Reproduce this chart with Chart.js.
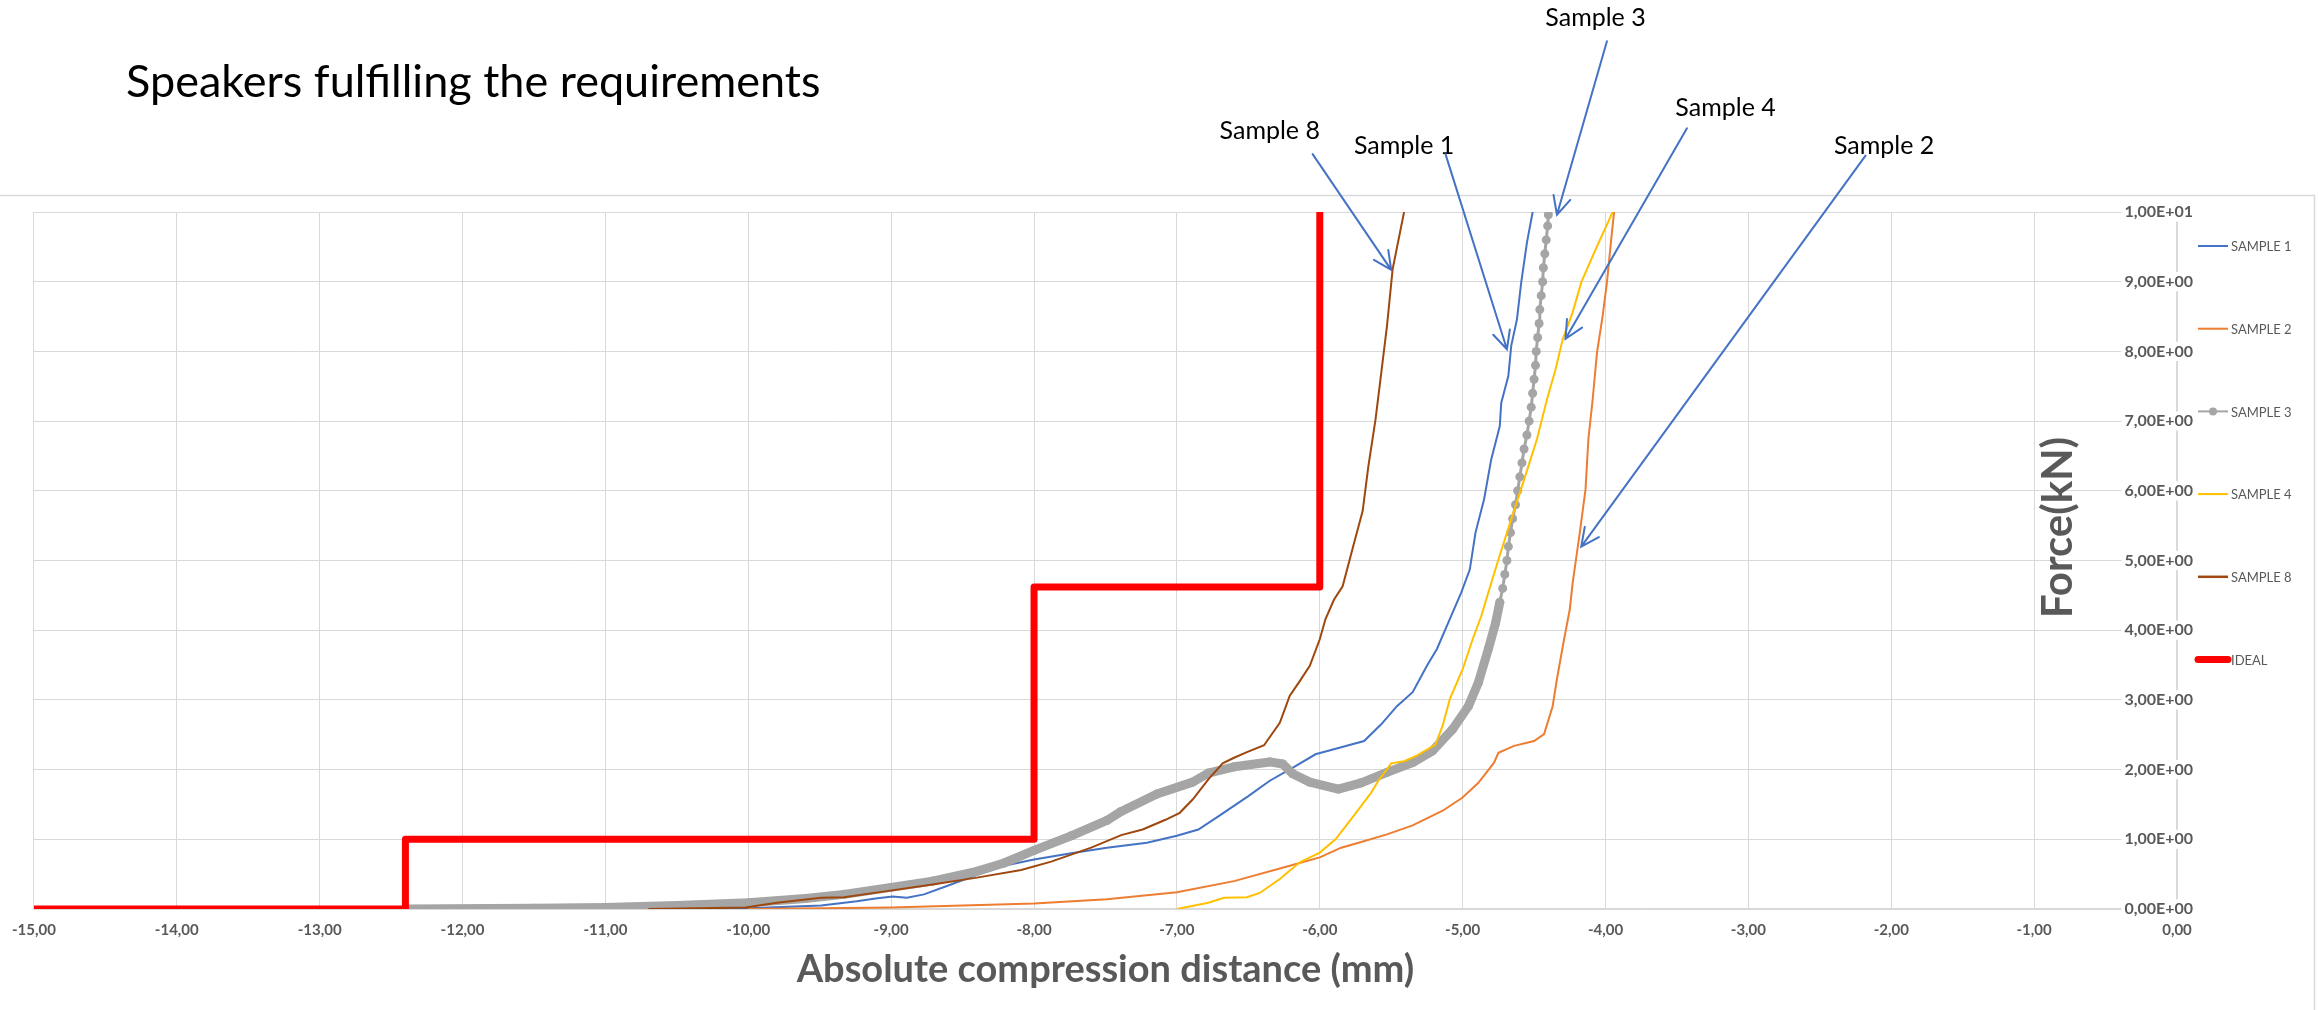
<!DOCTYPE html>
<html>
<head>
<meta charset="utf-8">
<script src="https://cdn.jsdelivr.net/npm/chart.js@4.4.1/dist/chart.umd.min.js"></script>
<style>
  html, body { margin: 0; padding: 0; background: #fff; }
  #chart { display: block; }
</style>
</head>
<body>
<canvas id="chart" width="2318" height="1010"></canvas>
<script>
// ---- data (x = compression distance in mm, y = force in kN) ----
const sample1X = [-10.7, -10.0, -9.49, -9.24, -9.11, -8.99, -8.89, -8.77, -8.61, -8.40, -8.21, -8.0, -7.74, -7.49, -7.21, -7.0, -6.85, -6.71, -6.50, -6.35, -6.17, -6.03, -5.85, -5.69, -5.57, -5.46, -5.35, -5.25, -5.18, -5.09, -5.01, -4.95, -4.91, -4.85, -4.80, -4.74, -4.73, -4.68, -4.66, -4.62, -4.59, -4.55, -4.51];
const sample1Y = [0.0, 0.01, 0.05, 0.11, 0.15, 0.18, 0.16, 0.21, 0.33, 0.49, 0.62, 0.71, 0.80, 0.88, 0.95, 1.05, 1.14, 1.33, 1.62, 1.84, 2.05, 2.22, 2.32, 2.41, 2.65, 2.91, 3.11, 3.49, 3.73, 4.16, 4.54, 4.87, 5.40, 5.88, 6.45, 6.93, 7.26, 7.65, 8.08, 8.46, 8.99, 9.56, 10.0];

const sample2X = [-10.0, -9.0, -8.5, -8.0, -7.49, -7.0, -6.60, -6.21, -6.0, -5.85, -5.71, -5.53, -5.35, -5.14, -5.0, -4.89, -4.78, -4.75, -4.64, -4.50, -4.43, -4.37, -4.34, -4.29, -4.25, -4.23, -4.18, -4.14, -4.12, -4.09, -4.06, -4.02, -3.99, -3.96, -3.94];
const sample2Y = [0.0, 0.02, 0.05, 0.08, 0.14, 0.24, 0.40, 0.62, 0.74, 0.88, 0.96, 1.07, 1.20, 1.41, 1.60, 1.81, 2.10, 2.24, 2.34, 2.41, 2.51, 2.91, 3.30, 3.87, 4.30, 4.68, 5.40, 6.02, 6.74, 7.31, 7.98, 8.51, 8.99, 9.61, 10.0];

const sample3X = [-12.40, -11.5, -11.0, -10.5, -10.0, -9.6, -9.33, -9.0, -8.71, -8.40, -8.21, -8.0, -7.74, -7.49, -7.39, -7.14, -6.89, -6.78, -6.60, -6.35, -6.26, -6.19, -6.07, -5.87, -5.71, -5.53, -5.35, -5.21, -5.07, -4.96, -4.89, -4.82, -4.77, -4.74, -4.72, -4.705, -4.69, -4.68, -4.665, -4.65, -4.63, -4.615, -4.60, -4.585, -4.57, -4.55, -4.535, -4.52, -4.51, -4.50, -4.49, -4.485, -4.475, -4.465, -4.46, -4.45, -4.44, -4.435, -4.425, -4.415, -4.405, -4.40];
const sample3Y = [0.0, 0.01, 0.02, 0.05, 0.09, 0.15, 0.21, 0.31, 0.40, 0.54, 0.66, 0.84, 1.05, 1.27, 1.40, 1.65, 1.82, 1.95, 2.04, 2.11, 2.08, 1.94, 1.82, 1.72, 1.81, 1.96, 2.10, 2.27, 2.58, 2.91, 3.25, 3.73, 4.10, 4.40, 4.60, 4.80, 5.00, 5.20, 5.40, 5.60, 5.80, 6.00, 6.20, 6.40, 6.60, 6.80, 7.00, 7.20, 7.40, 7.60, 7.80, 8.00, 8.20, 8.40, 8.60, 8.80, 9.00, 9.20, 9.40, 9.60, 9.80, 9.96];

const sample4X = [-7.0, -6.78, -6.67, -6.51, -6.42, -6.28, -6.14, -6.0, -5.89, -5.78, -5.71, -5.64, -5.59, -5.50, -5.41, -5.32, -5.19, -5.14, -5.09, -5.0, -4.93, -4.87, -4.82, -4.75, -4.66, -4.57, -4.48, -4.41, -4.35, -4.30, -4.23, -4.17, -4.07, -3.95];
const sample4Y = [0.0, 0.09, 0.16, 0.17, 0.23, 0.43, 0.67, 0.81, 1.0, 1.29, 1.48, 1.67, 1.84, 2.09, 2.12, 2.20, 2.36, 2.63, 3.01, 3.44, 3.87, 4.20, 4.54, 5.01, 5.59, 6.16, 6.74, 7.31, 7.74, 8.17, 8.56, 8.99, 9.46, 10.0];

const sample8X = [-10.70, -10.02, -9.80, -9.49, -9.33, -9.02, -8.71, -8.40, -8.09, -7.88, -7.60, -7.39, -7.24, -7.08, -6.98, -6.89, -6.78, -6.68, -6.60, -6.51, -6.39, -6.28, -6.21, -6.14, -6.07, -6.0, -5.96, -5.90, -5.84, -5.76, -5.70, -5.66, -5.61, -5.57, -5.53, -5.49, -5.41];
const sample8Y = [0.0, 0.02, 0.09, 0.16, 0.17, 0.26, 0.35, 0.45, 0.56, 0.68, 0.88, 1.06, 1.14, 1.28, 1.38, 1.57, 1.86, 2.09, 2.17, 2.25, 2.35, 2.67, 3.06, 3.27, 3.49, 3.87, 4.16, 4.44, 4.63, 5.25, 5.71, 6.35, 7.02, 7.69, 8.36, 9.18, 10.0];

const idealX = [-15, -12.4, -12.4, -8, -8, -6, -6];
const idealY = [0, 0, 1, 1, 4.62, 4.62, 10];

const seriesNames = ['SAMPLE 1', 'SAMPLE 2', 'SAMPLE 3', 'SAMPLE 4', 'SAMPLE 8', 'IDEAL'];
const seriesColors = ['#4472C4', '#ED7D31', '#A5A5A5', '#FFC000', '#9E480E', '#FF0000'];

// callouts: label text, label anchor and arrow (in chart units)
const calloutText = ['Sample 8', 'Sample 1', 'Sample 3', 'Sample 4', 'Sample 2'];
const calloutLabelX = [-6.35, -5.41, -4.07, -3.16, -2.05];
const calloutLabelY = [11.17, 10.95, 12.79, 11.50, 10.95];
const arrowFromX = [-6.05, -5.12, -3.99, -3.43, -2.18];
const arrowFromY = [10.83, 10.83, 12.45, 11.20, 10.81];
const arrowToX = [-5.50, -4.69, -4.34, -4.28, -4.17];
const arrowToY = [9.17, 8.03, 9.96, 8.18, 5.20];

function toPoints(xs, ys) {
    return xs.map((x, i) => ({ x: x, y: ys[i] }));
}

// 1,00E+01 style labels
function sciLabel(v) {
    let s = Number(v).toExponential(2);
    let [m, e] = s.split('e');
    let sign = e[0] === '-' ? '-' : '+';
    let digits = e.replace('+', '').replace('-', '');
    if (digits.length < 2) digits = '0' + digits;
    return m.replace('.', ',') + 'E' + sign + digits;
}

const FONT = 'Lato';

// draws title, callouts, y title, legend and chart border
const decorations = {
    id: 'decorations',
    beforeDraw(chart) {
        const ctx = chart.ctx;
        ctx.save();
        ctx.fillStyle = '#ffffff';
        ctx.fillRect(0, 0, chart.width, chart.height);
        ctx.restore();
    },
    afterDraw(chart) {
        const ctx = chart.ctx;
        const xs = chart.scales.x;
        const ys = chart.scales.y;
        const area = chart.chartArea;
        ctx.save();

        // outer border of the chart object
        ctx.strokeStyle = '#D9D9D9';
        ctx.lineWidth = 1.5;
        ctx.beginPath();
        ctx.moveTo(0, 195.5);
        ctx.lineTo(2314.5, 195.5);
        ctx.lineTo(2314.5, chart.height);
        ctx.stroke();

        // page title
        ctx.fillStyle = '#000000';
        ctx.font = '45px ' + FONT;
        ctx.textAlign = 'left';
        ctx.textBaseline = 'alphabetic';
        ctx.fillText('Speakers fulfilling the requirements', 126, 97);

        // callout labels and arrows
        ctx.font = '25px ' + FONT;
        ctx.textAlign = 'center';
        ctx.textBaseline = 'middle';
        calloutText.forEach((t, i) => {
            ctx.fillStyle = '#000000';
            ctx.fillText(t, xs.getPixelForValue(calloutLabelX[i]), ys.getPixelForValue(calloutLabelY[i]));
            let x0 = xs.getPixelForValue(arrowFromX[i]), y0 = ys.getPixelForValue(arrowFromY[i]);
            let x1 = xs.getPixelForValue(arrowToX[i]), y1 = ys.getPixelForValue(arrowToY[i]);
            ctx.strokeStyle = '#4472C4';
            ctx.lineWidth = 2;
            ctx.lineCap = 'round';
            ctx.beginPath();
            ctx.moveTo(x0, y0);
            ctx.lineTo(x1, y1);
            let ang = Math.atan2(y1 - y0, x1 - x0);
            let len = 20, spread = 0.45;
            ctx.moveTo(x1 - len * Math.cos(ang - spread), y1 - len * Math.sin(ang - spread));
            ctx.lineTo(x1, y1);
            ctx.lineTo(x1 - len * Math.cos(ang + spread), y1 - len * Math.sin(ang + spread));
            ctx.stroke();
        });

        // vertical axis title, reading upwards, inside the plot
        ctx.save();
        ctx.translate(area.right - 119, (area.top + area.bottom) / 2 - 33);
        ctx.rotate(-Math.PI / 2);
        ctx.fillStyle = '#595959';
        ctx.font = 'bold 42px ' + FONT;
        ctx.textAlign = 'center';
        ctx.textBaseline = 'middle';
        ctx.fillText('Force(kN)', 0, 0);
        ctx.restore();

        // legend
        ctx.font = '13px ' + FONT;
        ctx.textAlign = 'left';
        ctx.textBaseline = 'middle';
        chart.data.datasets.forEach((ds, i) => {
            let lx = area.right + 21;
            let ly = area.top + 34 + i * 82.7;
            ctx.strokeStyle = ds.borderColor;
            ctx.lineWidth = ds.legendWidth;
            ctx.lineCap = ds.legendWidth > 4 ? 'round' : 'butt';
            ctx.beginPath();
            ctx.moveTo(lx, ly);
            ctx.lineTo(lx + 30, ly);
            ctx.stroke();
            if (ds.pointRadius > 0) {
                ctx.fillStyle = ds.borderColor;
                ctx.beginPath();
                ctx.arc(lx + 15, ly, 4, 0, Math.PI * 2);
                ctx.fill();
            }
            ctx.fillStyle = '#595959';
            ctx.fillText(ds.label, lx + 33, ly + 1);
        });
        ctx.restore();
    }
};

const ctx = document.getElementById('chart').getContext('2d');

const datasets = [
    { label: seriesNames[0], data: toPoints(sample1X, sample1Y), borderColor: seriesColors[0], borderWidth: 2, pointRadius: 0, order: 6, legendWidth: 2 },
    { label: seriesNames[1], data: toPoints(sample2X, sample2Y), borderColor: seriesColors[1], borderWidth: 2, pointRadius: 0, order: 5, legendWidth: 2 },
    {
        label: seriesNames[2], data: toPoints(sample3X, sample3Y), borderColor: seriesColors[2],
        borderWidth: 9, pointRadius: 4.5, pointBackgroundColor: seriesColors[2], pointBorderWidth: 0,
        borderJoinStyle: 'round', borderCapStyle: 'round', order: 4, legendWidth: 2,
        segment: { borderWidth: c => (c.p0.parsed.y >= 4.3 ? 3 : 9) }
    },
    { label: seriesNames[3], data: toPoints(sample4X, sample4Y), borderColor: seriesColors[3], borderWidth: 2, pointRadius: 0, order: 3, legendWidth: 2 },
    { label: seriesNames[4], data: toPoints(sample8X, sample8Y), borderColor: seriesColors[4], borderWidth: 2, pointRadius: 0, order: 2, legendWidth: 2.5 },
    { label: seriesNames[5], data: toPoints(idealX, idealY), borderColor: seriesColors[5], borderWidth: 7, pointRadius: 0, borderJoinStyle: 'round', order: 1, legendWidth: 7 }
];

new Chart(ctx, {
    type: 'line',
    data: { datasets: datasets },
    options: {
        responsive: false,
        animation: false,
        devicePixelRatio: 1,
        elements: { line: { tension: 0, fill: false } },
        layout: { padding: { left: 29, top: 212, right: 141, bottom: 0 } },
        plugins: {
            legend: { display: false },
            tooltip: { enabled: false }
        },
        scales: {
            x: {
                type: 'linear',
                min: -15,
                max: 0,
                ticks: {
                    stepSize: 1,
                    autoSkip: false,
                    maxRotation: 0,
                    padding: 12,
                    color: '#595959',
                    font: { family: FONT, weight: 'bold', size: 15 },
                    callback: v => v.toFixed(2).replace('.', ',')
                },
                grid: { color: '#D9D9D9', lineWidth: 1, drawTicks: false },
                border: { color: '#D9D9D9', width: 1.5 },
                title: {
                    display: true,
                    text: 'Absolute compression distance (mm)',
                    color: '#595959',
                    font: { family: FONT, weight: 'bold', size: 38 },
                    padding: { top: 0, bottom: 17 }
                },
                afterFit: s => { s.height = 101; }
            },
            y: {
                type: 'linear',
                position: 'right',
                min: 0,
                max: 10,
                ticks: {
                    stepSize: 1,
                    mirror: true,
                    padding: 16,
                    color: '#595959',
                    font: { family: FONT, weight: 'bold', size: 16 },
                    showLabelBackdrop: true,
                    backdropColor: '#ffffff',
                    backdropPadding: { x: 3, y: 0 },
                    callback: v => sciLabel(v)
                },
                grid: { color: '#D9D9D9', lineWidth: 1, drawTicks: false },
                border: { color: '#D9D9D9', width: 1.5 },
                afterFit: s => { s.width = 0; }
            }
        }
    },
    plugins: [decorations]
});
</script>
</body>
</html>
